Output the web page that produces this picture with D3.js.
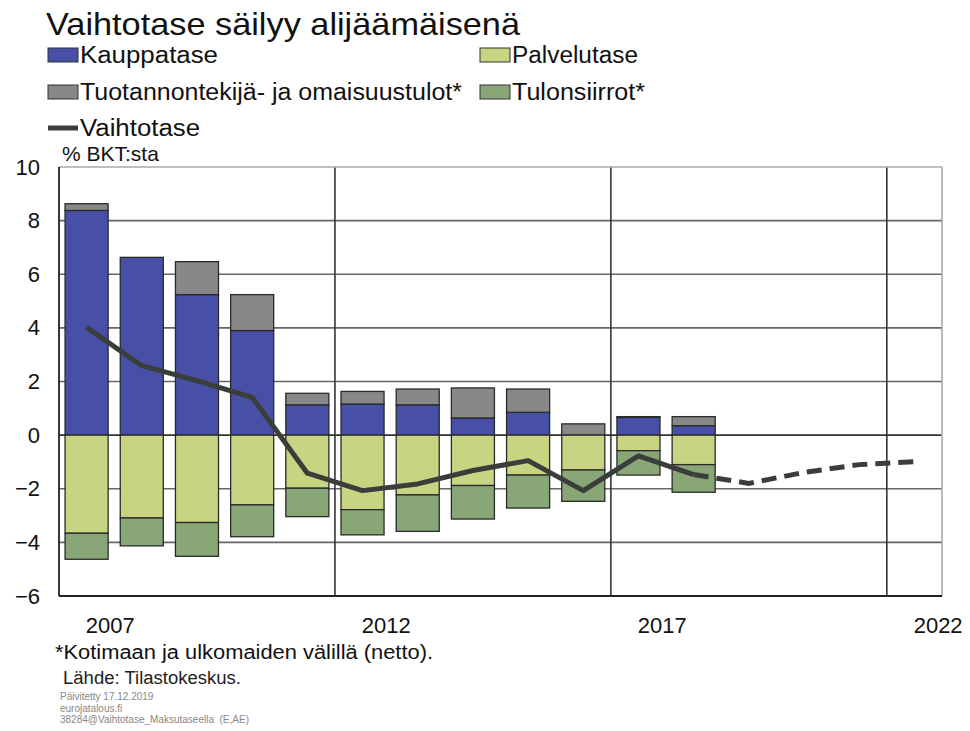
<!DOCTYPE html>
<html><head><meta charset="utf-8">
<script src="https://cdn.jsdelivr.net/npm/d3@7"></script>
<style>
body{margin:0;background:#fff;}
svg{display:block;font-family:"Liberation Sans",Arial,sans-serif;}
</style></head>
<body><svg id="c" width="970" height="731"></svg>
<script>
const years = [2007,2008,2009,2010,2011,2012,2013,2014,2015,2016,2017,2018];
const kauppatase = [8.38,6.63,5.24,3.90,1.13,1.16,1.13,0.64,0.85,0.00,0.66,0.35];
const tuotannontekija = [0.25,0.00,1.23,1.34,0.43,0.47,0.59,1.12,0.87,0.42,0.03,0.34];
const palvelutase = [-3.66,-3.09,-3.26,-2.60,-1.98,-2.78,-2.23,-1.88,-1.49,-1.30,-0.58,-1.10];
const tulonsiirrot = [-0.97,-1.04,-1.26,-1.19,-1.06,-0.94,-1.36,-1.25,-1.23,-1.17,-0.91,-1.03];
const vaihtotase = [4.02,2.59,2.03,1.41,-1.42,-2.07,-1.82,-1.32,-0.95,-2.07,-0.77,-1.47];
const forecastYears = [2018,2019,2020,2021,2022];
const forecast = [-1.47,-1.80,-1.39,-1.10,-0.99];
const yTicks = [-6,-4,-2,0,2,4,6,8,10];
const xLabelYears = [2007,2012,2017,2022];

const colors = {k:"#4750a6", t:"#888888", p:"#c9d483", s:"#89a676", line:"#3b3d3b"};

const svg = d3.select("#c");
const x = d3.scaleLinear().domain([2007,2023]).range([59,942]);
const y = d3.scaleLinear().domain([-6,10]).range([596,167]);

// title
svg.append("text").attr("x",46).attr("y",35).attr("font-size",32).attr("fill","#111")
  .attr("textLength",474).attr("lengthAdjust","spacingAndGlyphs")
  .text("Vaihtotase säilyy alijäämäisenä");

// legend
const legend = [
  {label:"Kauppatase", c:colors.k, x:48, y:55, w:138},
  {label:"Palvelutase", c:colors.p, x:480, y:55, w:126},
  {label:"Tuotannontekijä- ja omaisuustulot*", c:colors.t, x:48, y:92, w:382},
  {label:"Tulonsiirrot*", c:colors.s, x:480, y:92, w:133},
];
legend.forEach(l=>{
  svg.append("rect").attr("x",l.x).attr("y",l.y-7).attr("width",30).attr("height",14)
    .attr("fill",l.c).attr("stroke","#333").attr("stroke-width",1);
  svg.append("text").attr("x",l.x+32).attr("y",l.y+8).attr("font-size",23).attr("fill","#111")
    .attr("textLength",l.w).attr("lengthAdjust","spacingAndGlyphs").text(l.label);
});
svg.append("line").attr("x1",48).attr("x2",78).attr("y1",128).attr("y2",128)
  .attr("stroke",colors.line).attr("stroke-width",5);
svg.append("text").attr("x",80).attr("y",136).attr("font-size",23).attr("fill","#111")
  .attr("textLength",120).attr("lengthAdjust","spacingAndGlyphs").text("Vaihtotase");
svg.append("text").attr("x",62).attr("y",161).attr("font-size",21).attr("fill","#111").text("% BKT:sta");

// grid
const g = svg.append("g");
g.selectAll(".hg").data(yTicks.filter(v=>v>-6 && v<10)).join("line")
  .attr("x1",x(2007)).attr("x2",x(2023)).attr("y1",d=>y(d)).attr("y2",d=>y(d))
  .attr("stroke",d=>d===0?"#333":"#666").attr("stroke-width",1.6);
g.selectAll(".vg").data([2012,2017,2022]).join("line")
  .attr("x1",d=>x(d)).attr("x2",d=>x(d)).attr("y1",y(10)).attr("y2",y(-6))
  .attr("stroke","#333").attr("stroke-width",1.6);
// frame
g.append("line").attr("x1",x(2007)).attr("x2",x(2023)).attr("y1",y(10)).attr("y2",y(10)).attr("stroke","#aaa").attr("stroke-width",1.6);
g.append("line").attr("x1",x(2023)).attr("x2",x(2023)).attr("y1",y(10)).attr("y2",y(-6)).attr("stroke","#aaa").attr("stroke-width",1.6);
g.append("line").attr("x1",x(2007)).attr("x2",x(2023)).attr("y1",y(-6)).attr("y2",y(-6)).attr("stroke","#222").attr("stroke-width",1.8);
g.append("line").attr("x1",x(2007)).attr("x2",x(2007)).attr("y1",y(10)).attr("y2",y(-6)).attr("stroke","#222").attr("stroke-width",1.8);

// y axis labels
const yAxis = d3.axisLeft(y).tickValues(yTicks).tickSize(0).tickPadding(19).tickFormat(d3.format("d"));
const ya = svg.append("g").attr("transform",`translate(${x(2007)},0)`).call(yAxis);
ya.select(".domain").remove();
ya.selectAll("text").attr("font-size",22).attr("fill","#111").attr("font-family","Liberation Sans, Arial, sans-serif");

// x labels
svg.selectAll(".xl").data(xLabelYears).join("text")
  .attr("x",d=>x(d+0.93)).attr("y",633).attr("text-anchor","middle")
  .attr("font-size",22).attr("fill","#111").text(d=>d);

// bars
const bw = 0.78;
const rows = years.map((yr,i)=>({yr, k:kauppatase[i], t:tuotannontekija[i], p:palvelutase[i], s:tulonsiirrot[i]}));
const segs = [];
rows.forEach(r=>{
  segs.push({yr:r.yr, y0:0, y1:r.k, c:colors.k});
  segs.push({yr:r.yr, y0:r.k, y1:r.k+r.t, c:colors.t});
  segs.push({yr:r.yr, y0:0, y1:r.p, c:colors.p});
  segs.push({yr:r.yr, y0:r.p, y1:r.p+r.s, c:colors.s});
});
svg.append("g").selectAll("rect").data(segs.filter(s=>Math.abs(s.y1-s.y0)>0.001)).join("rect")
  .attr("x",d=>x(d.yr+0.5-bw/2)).attr("width",x(2007+bw)-x(2007))
  .attr("y",d=>y(Math.max(d.y0,d.y1))).attr("height",d=>Math.abs(y(d.y0)-y(d.y1)))
  .attr("fill",d=>d.c).attr("stroke","#2a2a2a").attr("stroke-width",1.3);

// line
const line = d3.line().x(d=>x(d[0]+0.5)).y(d=>y(d[1]));
svg.append("path").datum(years.map((yr,i)=>[yr,vaihtotase[i]])).attr("d",line)
  .attr("fill","none").attr("stroke",colors.line).attr("stroke-width",5).attr("stroke-linejoin","round");
svg.append("path").datum(forecastYears.map((yr,i)=>[yr,forecast[i]])).attr("d",line)
  .attr("fill","none").attr("stroke",colors.line).attr("stroke-width",5).attr("stroke-dasharray","15,8");

// footer
svg.append("text").attr("x",55).attr("y",659).attr("font-size",20).attr("fill","#111")
  .attr("textLength",378).attr("lengthAdjust","spacingAndGlyphs").text("*Kotimaan ja ulkomaiden välillä (netto).");
svg.append("text").attr("x",63).attr("y",684).attr("font-size",18).attr("fill","#222")
  .attr("textLength",178).attr("lengthAdjust","spacingAndGlyphs").text("Lähde: Tilastokeskus.");
const small = ["Päivitetty 17.12.2019","eurojatalous.fi","38284@Vaihtotase_Maksutaseella  (E,AE)"];
svg.selectAll(".sm").data(small).join("text").attr("x",60).attr("y",(d,i)=>700+i*11.5)
  .attr("font-size",10).attr("fill","#888").attr("xml:space","preserve").text(d=>d);
</script></body></html>
